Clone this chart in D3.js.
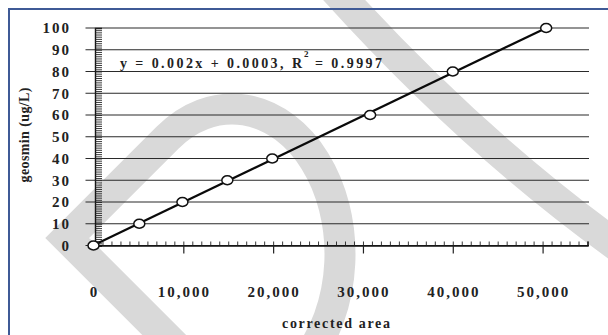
<!DOCTYPE html>
<html>
<head>
<meta charset="utf-8">
<script src="https://cdn.jsdelivr.net/npm/d3@7"></script>
<style>
  html, body { margin: 0; padding: 0; background: #ffffff; }
  svg { display: block; }
</style>
</head>
<body>
<div id="chart"></div>
<script>
// ---- data ----
const correctedAreas = [0, 5100, 9900, 14900, 19900, 30800, 40000, 50400];
const concentrations = [0, 10, 20, 30, 40, 60, 80, 100];
const xTickValues = [0, 10000, 20000, 30000, 40000, 50000];
const yTickValues = [0, 10, 20, 30, 40, 50, 60, 70, 80, 90, 100];
const equationMain = "y = 0.002x + 0.0003, R";
const equationSup = "2";
const equationTail = "= 0.9997";
const xTitle = "corrected area";
const yTitle = "geosmin (ug/L)";

const W = 608, H = 335;
const svg = d3.select("#chart").append("svg").attr("width", W).attr("height", H);
svg.append("rect").attr("width", W).attr("height", H).attr("fill", "#ffffff");

const FONT = "'Liberation Serif', 'Times New Roman', serif";

// ---- watermark (background decoration) ----
const wm = svg.append("g").attr("fill", "none").attr("stroke", "#d9d9d9").attr("stroke-width", 31);
(function () {
  const cx = 232, cy = 254, rx = 108, ry = 145;
  const s = Math.sqrt(rx * rx + ry * ry);
  const tx = cx - rx * rx / s, ty = cy - ry * ry / s;
  const c = tx + ty;               // tangent line x + y = c
  const vy = 238, vx = c - vy;     // chevron vertex on that line
  const endY = 360, endX = cx + rx * Math.sqrt(1 - Math.pow((endY - cy) / ry, 2));
  const p = d3.path();
  p.moveTo(vx + 115, vy + 115);
  p.lineTo(vx, vy);
  p.lineTo(tx, ty);
  wm.append("path").attr("d", p.toString() + ` A ${rx} ${ry} 0 0 1 ${endX} ${endY}`);
  wm.append("path").attr("d", "M 326 -20 Q 478 150 640 262");
})();

// ---- frame ----
svg.append("path").attr("d", `M 9 ${H + 2} L 9 9 L ${W + 2} 9`)
  .attr("fill", "none").attr("stroke", "#3f5a96").attr("stroke-width", 2);

// ---- scales ----
const x = d3.scaleLinear().domain([0, 55000]).range([93.5, 587.5]);
const y = d3.scaleLinear().domain([0, 100]).range([245.5, 28]);

// ---- horizontal grid lines ----
svg.append("g").selectAll("line").data(yTickValues).join("line")
  .attr("x1", x(0) - 8).attr("x2", x(55000) + 1.5)
  .attr("y1", d => y(d)).attr("y2", d => y(d))
  .attr("stroke", "#2a2a2a").attr("stroke-width", 1.2);

// ---- y axis: vertical line with minor ticks every unit ----
const yAxisX = x(0) + 1.5;
const yAxis = svg.append("g").attr("transform", `translate(${yAxisX},0)`)
  .call(d3.axisRight(y).tickValues(d3.range(0, 101, 1)).tickSize(7).tickFormat(""));
yAxis.selectAll("path").attr("stroke", "#111").attr("stroke-width", 1.4);
yAxis.selectAll("line").attr("stroke", "#222").attr("stroke-width", 0.9);

// y tick labels
svg.append("g").selectAll("text").data(yTickValues).join("text")
  .attr("x", 71).attr("y", d => y(d)).attr("dy", "0.36em")
  .attr("text-anchor", "end")
  .attr("font-family", FONT).attr("font-weight", "bold").attr("font-size", 15)
  .attr("letter-spacing", 2).attr("fill", "#222")
  .text(d => d);

// ---- x axis: minor ticks up, major ticks down ----
const xMinor = svg.append("g").attr("transform", `translate(0,${y(0)})`)
  .call(d3.axisTop(x).tickValues(d3.range(1000, 55001, 1000)).tickSize(4).tickFormat(""));
xMinor.selectAll("path").attr("stroke", "#111").attr("stroke-width", 1.4);
xMinor.selectAll("line").attr("stroke", "#222").attr("stroke-width", 0.9);
const xMajor = svg.append("g").attr("transform", `translate(0,${y(0)})`)
  .call(d3.axisBottom(x).tickValues(xTickValues.slice(1)).tickSize(8).tickFormat(""));
xMajor.select(".domain").remove();
xMajor.selectAll("line").attr("stroke", "#222").attr("stroke-width", 1.2);

// x tick labels
svg.append("g").selectAll("text").data(xTickValues).join("text")
  .attr("x", d => x(d) + 1).attr("y", 297)
  .attr("text-anchor", "middle")
  .attr("font-family", FONT).attr("font-weight", "bold").attr("font-size", 15)
  .attr("letter-spacing", 2).attr("fill", "#222")
  .text(d3.format(","));

// ---- regression line (least squares through the points) ----
const n = correctedAreas.length;
const mx = d3.mean(correctedAreas), my = d3.mean(concentrations);
let sxy = 0, sxx = 0;
for (let i = 0; i < n; i++) {
  sxy += (correctedAreas[i] - mx) * (concentrations[i] - my);
  sxx += (correctedAreas[i] - mx) ** 2;
}
const slope = sxy / sxx, intercept = my - slope * mx;
const fitX = [0, d3.max(correctedAreas)];
svg.append("path")
  .datum(fitX)
  .attr("d", d3.line().x(d => x(d)).y(d => y(intercept + slope * d)))
  .attr("fill", "none").attr("stroke", "#0a0a0a").attr("stroke-width", 2.2);

// ---- data points (open circles) ----
svg.append("g").selectAll("ellipse").data(correctedAreas).join("ellipse")
  .attr("cx", d => x(d)).attr("cy", (d, i) => y(concentrations[i]))
  .attr("rx", 5.5).attr("ry", 4.5)
  .attr("fill", "#ffffff").attr("stroke", "#111").attr("stroke-width", 1.5);

// ---- equation annotation ----
const eq = svg.append("g").attr("font-family", FONT).attr("font-weight", "bold")
  .attr("font-size", 14).attr("fill", "#222");
eq.append("text").attr("x", 120).attr("y", 68)
  .attr("textLength", 182).attr("lengthAdjust", "spacing").text(equationMain);
eq.append("text").attr("x", 304).attr("y", 57).attr("font-size", 9).text(equationSup);
eq.append("text").attr("x", 315).attr("y", 68)
  .attr("textLength", 67).attr("lengthAdjust", "spacing").text(equationTail);

// ---- axis titles ----
svg.append("text")
  .attr("x", 336).attr("y", 328).attr("text-anchor", "middle")
  .attr("font-family", FONT).attr("font-weight", "bold").attr("font-size", 14)
  .attr("fill", "#222").attr("textLength", 108).attr("lengthAdjust", "spacing")
  .text(xTitle);
svg.append("text")
  .attr("transform", "translate(29,135) rotate(-90)")
  .attr("text-anchor", "middle")
  .attr("font-family", FONT).attr("font-weight", "bold").attr("font-size", 14)
  .attr("fill", "#222").attr("textLength", 95).attr("lengthAdjust", "spacing")
  .text(yTitle);
</script>
</body>
</html>
